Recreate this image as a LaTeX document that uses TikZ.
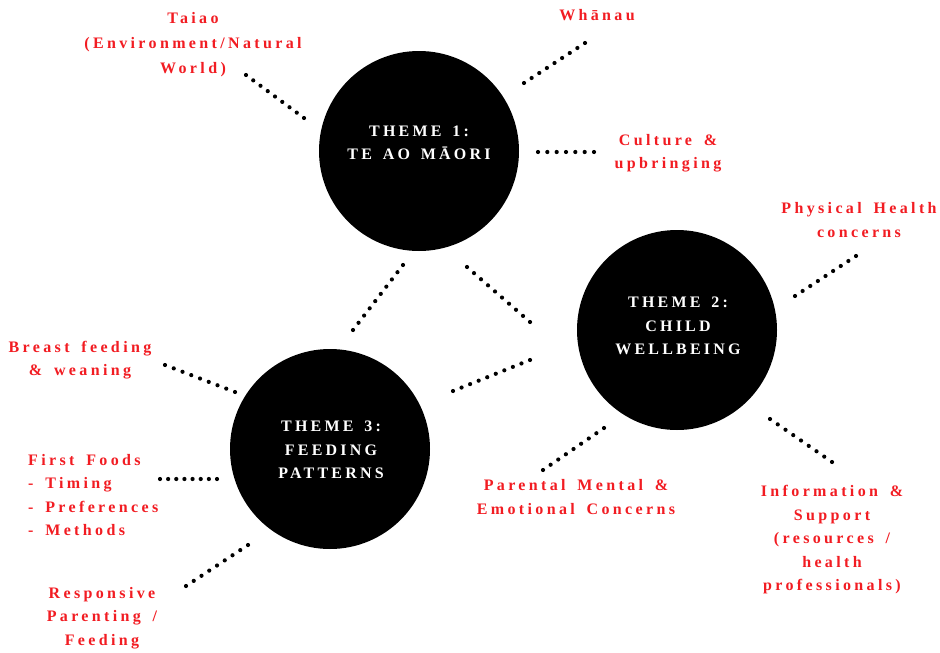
\documentclass[tikz,border=0pt]{standalone}
\usepackage{fontspec}
\setmainfont{Liberation Serif}[LetterSpace=21,WordSpace=1.6]
\newfontfamily\themefont{Liberation Serif}[LetterSpace=20,WordSpace=1.5]
\usetikzlibrary{calc}
\definecolor{lblred}{RGB}{242,28,34}
\newcommand\dotline[3]{\foreach \k in {0,...,#3}{\fill[black] ($(#1)!\k/#3!(#2)$) circle (2.1pt);}}
\begin{document}
\begin{tikzpicture}[x=1pt,y=-1pt,
  lbl/.style={text=lblred,font=\fontsize{16}{23.5}\selectfont\bfseries,align=center,inner sep=0pt},
  themecirc/.style={circle,fill=black,minimum size=200pt,inner sep=0pt},
  themetext/.style={text=white,font=\themefont\fontsize{16}{23.5}\selectfont\bfseries,align=center,inner sep=0pt}]
\useasboundingbox[fill=white] (0,0) rectangle (940,653);

% theme circles
\node[themecirc] (t1) at (419,151) {};
\node[themecirc] (t2) at (677,330) {};
\node[themecirc] (t3) at (330,449) {};
\node[themetext] (t1l) at (419,143) {THEME 1:\\TE AO MĀORI};
\node[themetext] (t2l) at (678,326) {THEME 2:\\CHILD\\WELLBEING};
\node[themetext] (t3l) at (331,450) {THEME 3:\\FEEDING\\PATTERNS};

% labels
\node[lbl,font=\fontsize{16}{25}\selectfont\bfseries] (taiao) at (193,45) {Taiao\\(Environment/Natural\\World)};
\node[lbl] (whanau) at (597,15) {Whānau};
\node[lbl] (culture) at (668,153) {Culture \&\\upbringing};
\node[lbl] (phys) at (859,220) {Physical Health\\concerns};
\node[lbl] (breast) at (80,360) {Breast feeding\\\& weaning};
\node[lbl,align=left,anchor=west] (first) at (28,495) {First Foods\\- Timing\\- Preferences\\- Methods};
\node[lbl] (resp) at (102,618) {Responsive\\Parenting /\\Feeding};
\node[lbl] (parent) at (576,497) {Parental Mental \&\\Emotional Concerns};
\node[lbl] (info) at (832,540) {Information \&\\Support\\(resources /\\health\\professionals)};

% dotted connector end points
\coordinate (a1) at (246,75);  \coordinate (a2) at (304,118);
\coordinate (b1) at (524,83);  \coordinate (b2) at (585,43);
\coordinate (c1) at (538,152); \coordinate (c2) at (594,152);
\coordinate (d1) at (795,296); \coordinate (d2) at (856,256);
\coordinate (e1) at (467,267); \coordinate (e2) at (530,322);
\coordinate (f1) at (403,265); \coordinate (f2) at (353,330);
\coordinate (g1) at (453,391); \coordinate (g2) at (530,360);
\coordinate (h1) at (165,365); \coordinate (h2) at (235,392);
\coordinate (i1) at (160,479); \coordinate (i2) at (217,479);
\coordinate (j1) at (186,586); \coordinate (j2) at (248,545);
\coordinate (k1) at (543,470); \coordinate (k2) at (604,428);
\coordinate (l1) at (770,419); \coordinate (l2) at (832,462);

\dotline{a1}{a2}{8}
\dotline{b1}{b2}{8}
\dotline{c1}{c2}{6}
\dotline{d1}{d2}{8}
\dotline{e1}{e2}{9}
\dotline{f1}{f2}{9}
\dotline{g1}{g2}{9}
\dotline{h1}{h2}{8}
\dotline{i1}{i2}{7}
\dotline{j1}{j2}{8}
\dotline{k1}{k2}{8}
\dotline{l1}{l2}{8}
\end{tikzpicture}
\end{document}
